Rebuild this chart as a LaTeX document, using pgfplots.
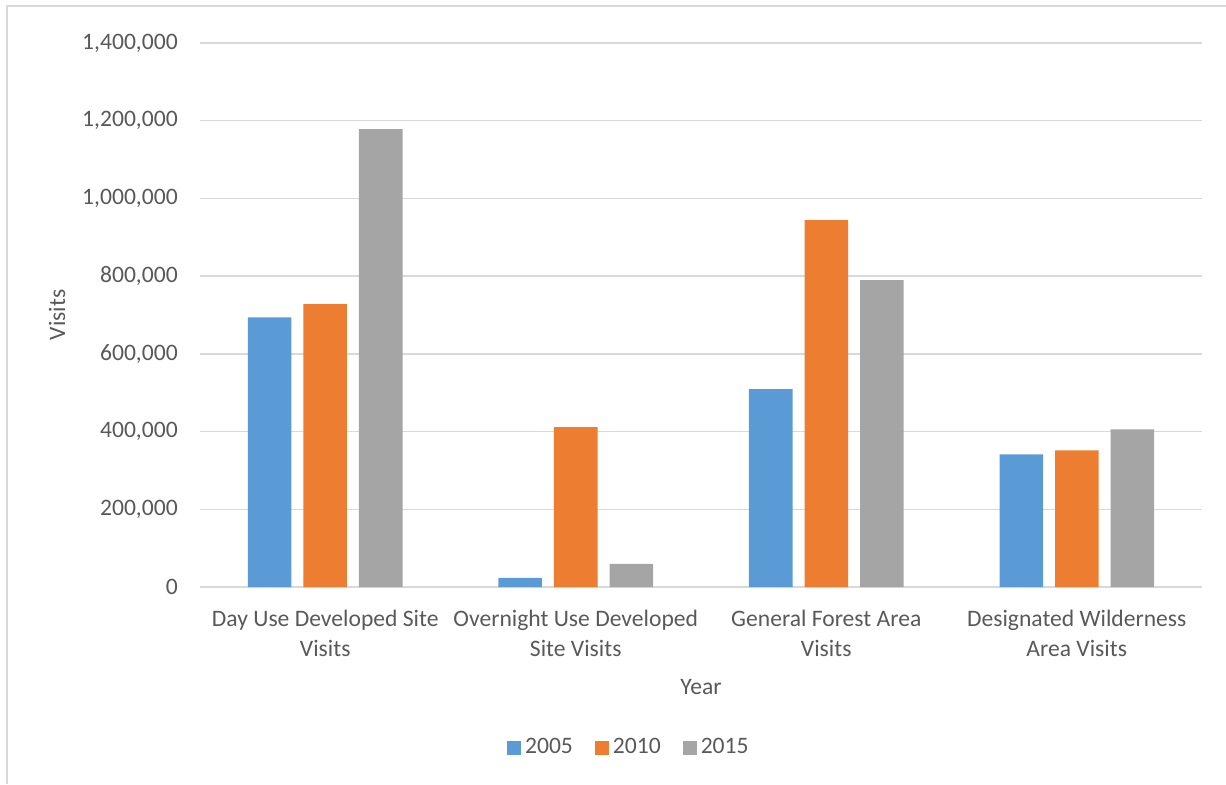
\documentclass[border=0pt]{standalone}
\usepackage{pgfplots}
\pgfplotsset{compat=1.18}
\usepackage{fontspec}
\setmainfont{Carlito}
\definecolor{c05}{HTML}{5B9BD5}
\definecolor{c10}{HTML}{ED7D31}
\definecolor{c15}{HTML}{A5A5A5}
\definecolor{txt}{HTML}{595959}
\definecolor{gridc}{HTML}{D9D9D9}
\begin{document}
\fontsize{11.8pt}{15pt}\selectfont
\begin{tikzpicture}
\path[use as bounding box] (-100pt,-98.5pt) rectangle (513pt,293.5pt);
\draw[gridc, line width=0.75pt] (-96.5pt,-98.5pt) -- (-96.5pt,290.5pt) -- (513pt,290.5pt);
\begin{axis}[
  at={(0,0)}, anchor=south west,
  scale only axis, width=501pt, height=272pt,
  ybar=6pt, bar width=21.75pt,
  xmin=-0.5, xmax=3.5, ymin=0, ymax=1400000,
  xtick={0,1,2,3},
  xticklabels={{Day Use Developed Site\\Visits},{Overnight Use Developed\\Site Visits},{General Forest Area\\Visits},{Designated Wilderness\\Area Visits}},
  x tick label style={align=center, text=txt, font=\fontsize{11.8pt}{15pt}\selectfont, yshift=-7.5pt},
  ytick={0,200000,400000,600000,800000,1000000,1200000,1400000},
  scaled y ticks=false,
  y tick label style={text=txt, font=\fontsize{11.8pt}{15pt}\selectfont, xshift=-7pt},
  /pgf/number format/.cd, fixed, 1000 sep={,}, assume math mode=true,
  /pgfplots/.cd,
  major tick length=0pt,
  axis line style={draw=none},
  xmajorgrids=false, ymajorgrids=true, grid style={draw=gridc, line width=0.75pt},
  ylabel={Visits}, xlabel={Year},
  ylabel style={at={(axis description cs:-0.1427,0.5)}, anchor=center, text=txt, font=\fontsize{11.8pt}{15pt}\selectfont},
  xlabel style={at={(axis description cs:0.5,0)}, anchor=center, yshift=-50pt, text=txt, font=\fontsize{11.8pt}{15pt}\selectfont},
  legend style={at={(axis description cs:0.429,0)}, anchor=center, yshift=-80.5pt, draw=none, fill=none,
    legend columns=3, text=txt, font=\fontsize{11.8pt}{15pt}\selectfont,
    /tikz/every even column/.append style={column sep=9pt}},
  legend image code/.code={\fill[#1] (0pt,-3.5pt) rectangle (7pt,3.5pt);},
]
\addplot[fill=c05, draw=none] coordinates {(0,694000) (1,23700) (2,509400) (3,341300)};
\addplot[fill=c10, draw=none] coordinates {(0,728200) (1,411600) (2,944400) (3,351600)};
\addplot[fill=c15, draw=none] coordinates {(0,1178600) (1,59700) (2,790000) (3,405700)};
\legend{2005,2010,2015}
\end{axis}
\end{tikzpicture}
\end{document}
